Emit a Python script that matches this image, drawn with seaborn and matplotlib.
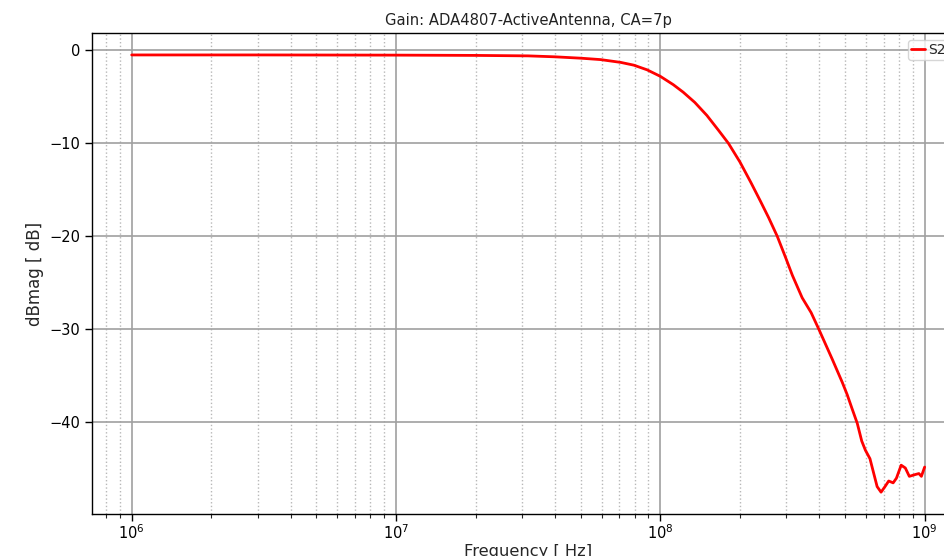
import numpy as np
import pandas as pd
import matplotlib
matplotlib.use("Agg")
import matplotlib.pyplot as plt
import seaborn as sns

# ---- data ----
freq_hz = [1.00e6, 3.16e6, 1.00e7, 2.00e7, 3.16e7, 3.98e7, 5.01e7, 5.94e7,
           7.08e7, 7.94e7, 8.91e7, 1.00e8, 1.12e8, 1.22e8, 1.35e8, 1.50e8,
           1.66e8, 1.81e8, 2.00e8, 2.20e8, 2.39e8, 2.57e8, 2.77e8, 2.98e8,
           3.16e8, 3.44e8, 3.72e8, 3.98e8, 4.47e8, 4.88e8, 5.09e8, 5.31e8,
           5.56e8, 5.78e8, 5.97e8, 6.21e8, 6.38e8, 6.61e8, 6.84e8, 7.08e8,
           7.31e8, 7.60e8, 7.82e8, 8.15e8, 8.45e8, 8.75e8, 9.23e8, 9.51e8,
           9.72e8, 1.00e9]
s21_db = [-0.50, -0.50, -0.52, -0.55, -0.60, -0.70, -0.85, -1.00,
          -1.30, -1.60, -2.10, -2.80, -3.70, -4.50, -5.60, -7.00,
          -8.60, -10.0, -12.0, -14.2, -16.2, -18.0, -20.0, -22.3,
          -24.2, -26.6, -28.2, -30.0, -33.2, -35.7, -37.0, -38.5,
          -40.1, -42.0, -43.0, -43.9, -45.2, -46.9, -47.5, -46.9,
          -46.3, -46.5, -46.0, -44.6, -44.9, -45.8, -45.6, -45.5,
          -45.8, -44.8]
series_name = "S21"
title = "Gain: ADA4807-ActiveAntenna, CA=7p"
xlabel = "Frequency [ Hz]"
ylabel = "dBmag [ dB]"

df = pd.DataFrame({"freq": freq_hz, "db": s21_db, "trace": series_name})

sns.set_style("white")
plt.rcParams["font.family"] = ["DejaVu Sans"]

fig = plt.figure(figsize=(9.44, 5.56), dpi=100)
ax = fig.add_axes([0.0975, 0.0755, 0.924, 0.865])

sns.lineplot(data=df, x="freq", y="db", hue="trace", palette={series_name: "red"},
             linewidth=2, ax=ax)
ax.set_xscale("log")

ax.grid(True, which="major", color="#a0a0a0", linestyle="-", linewidth=1.2)
ax.grid(True, which="minor", color="#b8b8b8", linestyle=":", linewidth=1.0)
ax.set_axisbelow(True)

for sp in ax.spines.values():
    sp.set_color("black")
    sp.set_linewidth(1.0)

ax.tick_params(axis="both", which="major", direction="out", length=5, width=1,
               labelsize=10.5, colors="black", bottom=True, left=True)
ax.tick_params(axis="x", which="major", pad=2)
ax.tick_params(axis="x", which="minor", direction="out", length=3, width=0.8,
               bottom=True)

ax.set_title(title, fontsize=10.6, color="#222222")
ax.set_xlabel(xlabel, fontsize=11.7, labelpad=1)
ax.set_ylabel(ylabel, fontsize=12)

leg = ax.legend(loc="upper right", fontsize=10, frameon=True, handlelength=1.0,
                handletextpad=0.25, borderpad=0.2)
leg.get_frame().set_edgecolor("#cccccc")

fig.savefig("out.png", dpi=100)
